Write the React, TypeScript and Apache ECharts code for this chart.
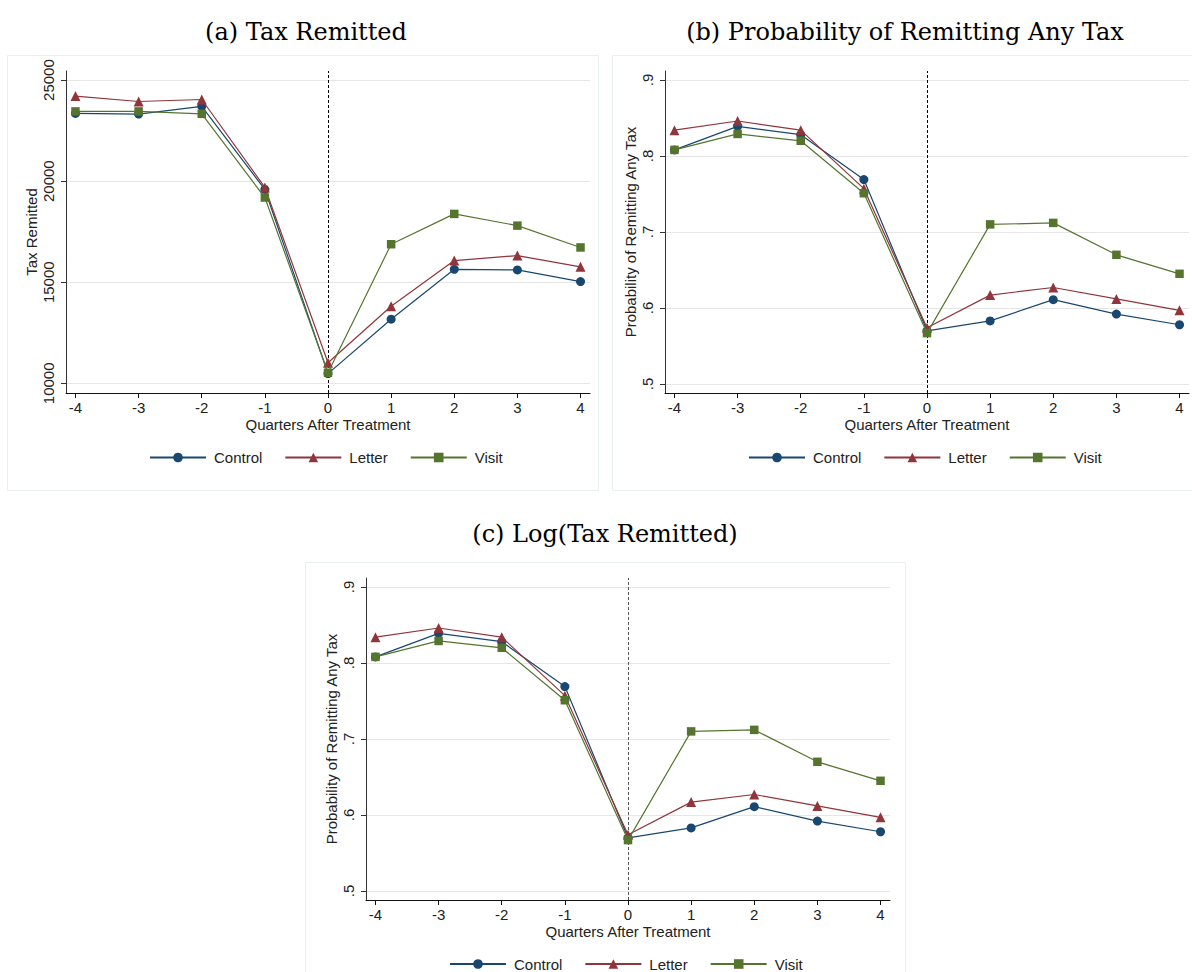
import React, { useEffect, useRef } from 'react';
import * as echarts from 'echarts';

const quarters = [-4, -3, -2, -1, 0, 1, 2, 3, 4];
const groups = ['Control', 'Letter', 'Visit'];

const taxControl = [23350, 23320, 23700, 19590, 10480, 13170, 15640, 15610, 15030];
const taxLetter = [24210, 23940, 24040, 19690, 11020, 13810, 16070, 16320, 15760];
const taxVisit = [23450, 23450, 23330, 19190, 10520, 16880, 18380, 17800, 16720];

const probControl = [0.808, 0.839, 0.828, 0.769, 0.570, 0.583, 0.611, 0.592, 0.578];
const probLetter = [0.834, 0.846, 0.834, 0.757, 0.574, 0.617, 0.627, 0.612, 0.597];
const probVisit = [0.808, 0.829, 0.820, 0.751, 0.567, 0.710, 0.712, 0.670, 0.645];

const logControl = [0.808, 0.839, 0.828, 0.769, 0.570, 0.583, 0.611, 0.592, 0.578];
const logLetter = [0.834, 0.846, 0.834, 0.757, 0.574, 0.617, 0.627, 0.612, 0.597];
const logVisit = [0.808, 0.829, 0.820, 0.751, 0.567, 0.710, 0.712, 0.670, 0.645];

const taxTicks = [10000, 15000, 20000, 25000];
const probTicks = [0.5, 0.6, 0.7, 0.8, 0.9];

const titles = ['(a) Tax Remitted', '(b) Probability of Remitting Any Tax', '(c) Log(Tax Remitted)'];
const yNames = ['Tax Remitted', 'Probability of Remitting Any Tax', 'Probability of Remitting Any Tax'];
const xName = 'Quarters After Treatment';

const COLORS = ['#1a476f', '#90353b', '#55752f'];
const SYMBOLS = ['circle', 'triangle', 'rect'];
const SYMBOL_SIZES = [9, 10, 8.5];
const SANS = '"Liberation Sans", Arial, sans-serif';
const SERIF = '"DejaVu Serif", serif';

export default function App() {
  const ref = useRef<HTMLDivElement>(null);

  useEffect(() => {
    if (!ref.current) return;
    const chart = echarts.init(ref.current, undefined, { renderer: 'svg' });

    const panels = [
      { grid: { left: 66, top: 71, width: 524, height: 322 }, ymin: 9520, ymax: 25450, ticks: taxTicks, data: [taxControl, taxLetter, taxVisit], fmt: (v: number) => String(v), title: [306, 31.5], legend: [149, 450], dash: '#000' },
      { grid: { left: 665, top: 71, width: 524, height: 322 }, ymin: 0.4882, ymax: 0.9118, ticks: probTicks, data: [probControl, probLetter, probVisit], fmt: (v: number) => v.toFixed(1).replace(/^0/, ''), title: [905, 31.5], legend: [748, 450], dash: '#000' },
      { grid: { left: 366, top: 578, width: 524, height: 322 }, ymin: 0.4882, ymax: 0.9118, ticks: probTicks, data: [logControl, logLetter, logVisit], fmt: (v: number) => v.toFixed(1).replace(/^0/, ''), title: [605, 533.5], legend: [449, 956.5], dash: '#555' },
    ];

    const labelStyle = { fontFamily: SANS, fontSize: 15, color: '#222' };

    const option: any = {
      animation: false,
      backgroundColor: '#fff',
      grid: panels.map((p) => ({ ...p.grid, containLabel: false })),
      xAxis: panels.map((p, i) => ({
        type: 'value',
        gridIndex: i,
        min: -4.15,
        max: 4.15,
        name: xName,
        nameLocation: 'middle',
        nameGap: 24,
        nameTextStyle: { ...labelStyle },
        axisLine: { onZero: false, lineStyle: { color: '#111', width: 1 } },
        axisTick: { customValues: quarters, length: 5, lineStyle: { color: '#111' } },
        axisLabel: { customValues: quarters, margin: 7, ...labelStyle, formatter: (v: number) => String(v) },
        splitLine: { show: false },
      })),
      yAxis: panels.map((p, i) => ({
        type: 'value',
        gridIndex: i,
        min: p.ymin,
        max: p.ymax,
        name: yNames[i],
        nameLocation: 'middle',
        nameGap: 27,
        nameTextStyle: { ...labelStyle },
        axisLine: { show: true, onZero: false, lineStyle: { color: '#333', width: 1 } },
        axisTick: { show: true, customValues: p.ticks, length: 5, lineStyle: { color: '#333' } },
        axisLabel: { customValues: p.ticks, rotate: 90, margin: 10, ...labelStyle, formatter: p.fmt },
        splitLine: { show: true, lineStyle: { color: '#e6e6e6', width: 1 } },
      })),
      legend: panels.map((p) => ({
        data: groups,
        left: p.legend[0],
        top: p.legend[1],
        padding: 0,
        itemWidth: 56,
        itemHeight: 12,
        itemGap: 22,
        selectedMode: false,
        textStyle: { ...labelStyle, padding: [0, 0, 0, 3] },
      })),
      graphic: [
        { type: 'rect', silent: true, z: -10, shape: { x: 7.5, y: 55.5, width: 591, height: 435 }, style: { fill: 'none', stroke: '#e9eeee', lineWidth: 1 } },
        { type: 'rect', silent: true, z: -10, shape: { x: 612.5, y: 55.5, width: 585, height: 435 }, style: { fill: 'none', stroke: '#e9eeee', lineWidth: 1 } },
        { type: 'rect', silent: true, z: -10, shape: { x: 305.5, y: 562.5, width: 600, height: 420 }, style: { fill: 'none', stroke: '#e9eeee', lineWidth: 1 } },
        ...panels.map((p, i) => ({
          type: 'text',
          x: p.title[0],
          y: p.title[1],
          silent: true,
          style: { text: titles[i], fontFamily: SERIF, fontSize: 24, fill: '#000', align: 'center', verticalAlign: 'middle' },
        })),
      ],
      series: [] as any[],
    };

    panels.forEach((p, i) => {
      groups.forEach((g, k) => {
        const s: any = {
          type: 'line',
          name: g,
          xAxisIndex: i,
          yAxisIndex: i,
          data: quarters.map((q, j) => [q, p.data[k][j]]),
          symbol: SYMBOLS[k],
          symbolSize: SYMBOL_SIZES[k],
          showAllSymbol: true,
          lineStyle: { color: COLORS[k], width: 1.2 },
          itemStyle: { color: COLORS[k], borderWidth: 0 },
          emphasis: { disabled: true },
          z: 3 + k,
        };
        if (k === 0) {
          s.markLine = {
            silent: true,
            symbol: ['none', 'none'],
            label: { show: false },
            lineStyle: { color: p.dash, type: [3, 2], width: 1 },
            data: [{ xAxis: 0 }],
            z: 2,
          };
        }
        option.series.push(s);
      });
    });

    chart.setOption(option);
    return () => chart.dispose();
  }, []);

  return <div ref={ref} style={{ position: 'absolute', left: 0, top: 0, width: 1192, height: 972 }} />;
}
